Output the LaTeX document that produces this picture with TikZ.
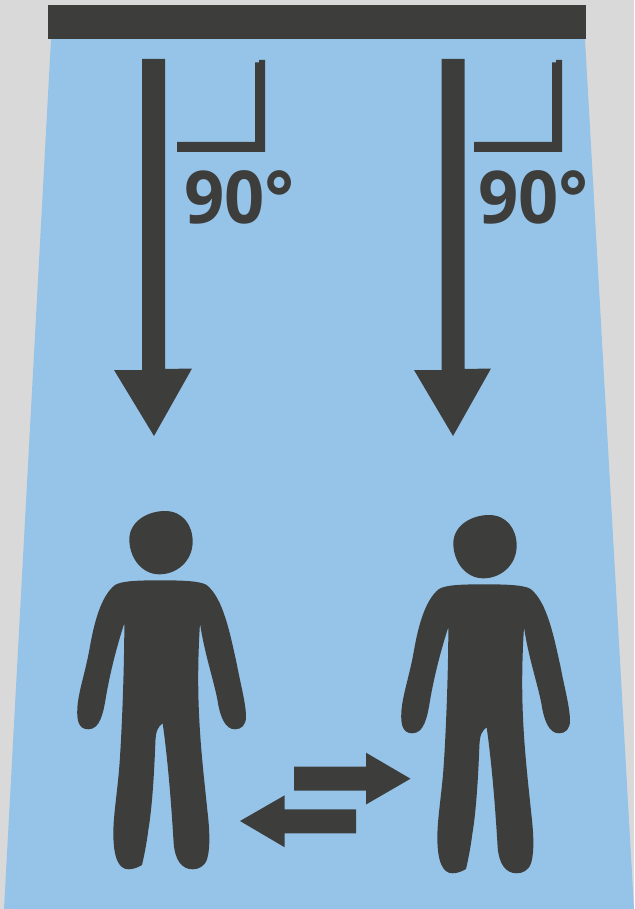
\documentclass[tikz,border=0pt]{standalone}
\usepackage{fontspec}
\setmainfont{Open Sans}
\definecolor{bgray}{HTML}{D9D9D9}
\definecolor{lightblue}{HTML}{96C4E8}
\definecolor{ink}{HTML}{3D3D3C}
\tikzset{
  inkfill/.style={fill=ink,draw=none},
  anglelabel/.style={inner sep=0pt,anchor=base west,text=ink,font=\fontsize{73}{73}\selectfont\bfseries}
}
\newcommand{\personfig}[2]{%
\begin{scope}[shift={(#1,#2)},x=0.3333pt,y=-0.3333pt]
  % head
  \fill[ink] (208,118) .. controls (208,65) and (262,33) .. (315,33)
    .. controls (368,33) and (398,75) .. (398,125)
    .. controls (398,182) and (352,223) .. (298,223)
    .. controls (244,223) and (208,172) .. (208,118) -- cycle;
  % body
  \fill[ink] (193,370) .. controls (170,440) and (150,520) .. (138,590)
    .. controls (130,640) and (120,688) .. (85,688)
    .. controls (55,688) and (50,660) .. (52,625)
    .. controls (54,580) and (75,520) .. (88,450)
    .. controls (100,380) and (120,290) .. (165,255)
    .. controls (185,243) and (230,241) .. (300,241)
    .. controls (370,241) and (420,243) .. (440,255)
    .. controls (490,295) and (510,400) .. (530,490)
    .. controls (540,545) and (558,610) .. (558,650)
    .. controls (558,675) and (545,688) .. (525,688)
    .. controls (495,688) and (482,650) .. (475,615)
    .. controls (465,550) and (435,470) .. (420,370)
    .. controls (415,450) and (412,550) .. (418,660)
    .. controls (423,760) and (435,860) .. (442,930)
    .. controls (448,980) and (452,1040) .. (442,1075)
    .. controls (435,1100) and (415,1108) .. (398,1108)
    .. controls (365,1108) and (345,1080) .. (341,1030)
    .. controls (335,930) and (325,790) .. (308,670)
    .. controls (295,680) and (287,690) .. (286,730)
    .. controls (283,810) and (277,920) .. (265,990)
    .. controls (260,1030) and (252,1070) .. (246,1095)
    .. controls (235,1102) and (220,1108) .. (205,1108)
    .. controls (175,1108) and (160,1070) .. (160,1000)
    .. controls (160,940) and (175,860) .. (180,770)
    .. controls (186,680) and (193,500) .. (193,370) -- cycle;
\end{scope}}
\begin{document}
\begin{tikzpicture}[x=1pt,y=-1pt]
\useasboundingbox (0,0) rectangle (634,909);
\fill[bgray] (0,0) rectangle (634,909);
\fill[lightblue] (51,39) -- (585,39) -- (634,909) -- (4,909) -- cycle;
\fill[inkfill] (48,5) rectangle (586,39);
% vertical arrows
\fill[inkfill] (142,59) -- (165,59) -- (165,369) -- (192,368.5) -- (154,436) -- (114,370) -- (142,370) -- cycle;
\fill[inkfill] (441.5,59) -- (464.5,59) -- (464.5,369) -- (491,368.5) -- (453,436) -- (414,370) -- (441.5,370) -- cycle;
% right-angle marks
\fill[inkfill] (177,142) -- (255,142) -- (255,62.5) -- (259,62.5) -- (259,60) -- (265,60) -- (265,152) -- (177,152) -- cycle;
\fill[inkfill] (474,142) -- (552,142) -- (552,62.5) -- (556,62.5) -- (556,60) -- (562,60) -- (562,152) -- (474,152) -- cycle;
\node[anglelabel] (angleleft) at (184,223) {\scalebox{0.965}[1]{90°}};
\node[anglelabel] (angleright) at (478,223) {\scalebox{0.965}[1]{90°}};
% people
\personfig{60}{500}
\personfig{384}{504}
% exchange arrows
\fill[inkfill] (294,766.7) -- (366,766.7) -- (366,752.7) -- (410.5,778.7) -- (366,804.5) -- (366,790.7) -- (294,790.7) -- cycle;
\fill[inkfill] (356,809.3) -- (284.7,809.3) -- (284.7,795.3) -- (240,821) -- (284.7,847.3) -- (284.7,833.3) -- (356,833.3) -- cycle;
\end{tikzpicture}
\end{document}
